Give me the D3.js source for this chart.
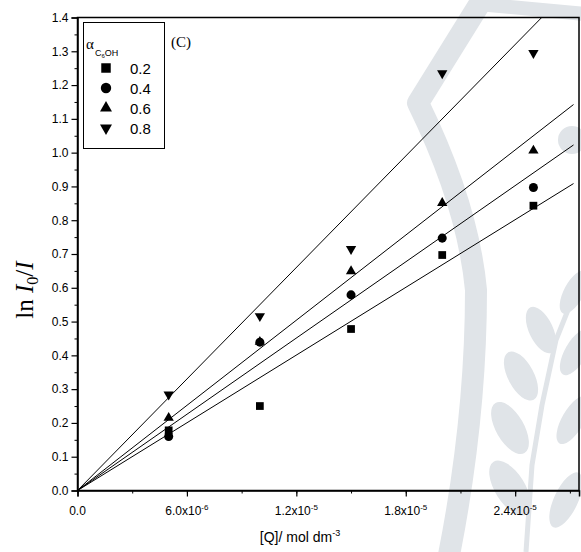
<!DOCTYPE html>
<html>
<head>
<meta charset="utf-8">
<script src="https://cdn.jsdelivr.net/npm/d3@7"></script>
<style>
  body { margin: 0; background: #fff; }
  text { font-family: "Liberation Sans", Arial, sans-serif; fill: #000; }
</style>
</head>
<body>
<div id="chart"></div>
<script>
// concentrations of quencher
var conc = [5e-6, 1e-5, 1.5e-5, 2e-5, 2.5e-5];
var alphaLabels = ['0.2', '0.4', '0.6', '0.8'];
var series02 = [0.178, 0.25, 0.478, 0.697, 0.843];
var series04 = [0.16, 0.439, 0.579, 0.747, 0.897];
var series06 = [0.215, 0.44, 0.649, 0.851, 1.006];
var series08 = [0.284, 0.516, 0.715, 1.235, 1.295];
// slopes of fitted lines (through origin)
var slopes = [33400, 37600, 42000, 55000];
var xTicks = [0, 6e-6, 1.2e-5, 1.8e-5, 2.4e-5];
var xTickLabels = [['0.0', ''], ['6.0x10', '-6'], ['1.2x10', '-5'], ['1.8x10', '-5'], ['2.4x10', '-5']];
var yTicks = [0, 0.1, 0.2, 0.3, 0.4, 0.5, 0.6, 0.7, 0.8, 0.9, 1.0, 1.1, 1.2, 1.3, 1.4];

var width = 581, height = 552;
var plotLeft = 77.5, plotRight = 579, plotTop = 17.5, plotBottom = 490.5;

var svg = d3.select('#chart').append('svg')
  .attr('width', width)
  .attr('height', height);

// faint background watermark
var wmColor = '#e0e4e8';
var wm = svg.append('g').attr('fill', 'none').attr('stroke', wmColor).attr('stroke-linejoin', 'round');
wm.append('path')
  .attr('d', 'M482,0 L418,103 Q468,205 476,290 Q476,420 448,560')
  .attr('stroke-width', 22);
wm.append('path').attr('d', 'M478,4 L585,14').attr('stroke-width', 14);
wm.append('path').attr('d', 'M578,285 L556,340 L542,405 L532,465 L526,552').attr('stroke-width', 5);
var leaves = [[541,330,12,25,-25],[521,376,13,27,-28],[510,428,14,29,-30],[510,488,15,31,-32],
              [574,292,10,24,28],[576,352,11,26,30],[573,420,11,27,30],[566,500,12,30,25]];
svg.insert('g', ':first-child').selectAll('ellipse').data(leaves).enter().append('ellipse')
  .attr('cx', function(d){ return d[0]; })
  .attr('cy', function(d){ return d[1]; })
  .attr('rx', function(d){ return d[2]; })
  .attr('ry', function(d){ return d[3]; })
  .attr('transform', function(d){ return 'rotate(' + d[4] + ',' + d[0] + ',' + d[1] + ')'; })
  .attr('fill', wmColor);
svg.insert('circle', ':first-child').attr('cx', 572).attr('cy', 140).attr('r', 14).attr('fill', wmColor);

var x = d3.scaleLinear().domain([0, 2.75e-5]).range([plotLeft, plotRight]);
var y = d3.scaleLinear().domain([0, 1.4]).range([plotBottom, plotTop]);

// frame
svg.append('rect')
  .attr('x', plotLeft).attr('y', plotTop)
  .attr('width', plotRight - plotLeft).attr('height', plotBottom - plotTop)
  .attr('fill', 'none').attr('stroke', '#000').attr('stroke-width', 1.5);

// x axis
svg.append('g').attr('transform', 'translate(0,' + plotBottom + ')')
  .call(d3.axisBottom(x).tickValues(d3.range(0, 2.8e-5, 3e-6)).tickSize(3).tickFormat(''))
  .call(function(g){ g.select('.domain').remove(); });
var xMajor = svg.append('g').attr('transform', 'translate(0,' + plotBottom + ')')
  .call(d3.axisBottom(x).tickValues(xTicks).tickSize(6).tickFormat(''));
xMajor.select('.domain').attr('stroke-width', 1.5);
xMajor.selectAll('.tick line').attr('stroke-width', 1.2);

var xl = svg.append('g').selectAll('text').data(xTicks).enter().append('text')
  .attr('x', function(d){ return x(d); })
  .attr('y', 515)
  .attr('text-anchor', 'middle')
  .attr('font-size', 12);
xl.append('tspan').text(function(d, i){ return xTickLabels[i][0]; });
xl.append('tspan').attr('dy', -5).attr('font-size', 8).text(function(d, i){ return xTickLabels[i][1]; });

// y axis
svg.append('g').attr('transform', 'translate(' + plotLeft + ',0)')
  .call(d3.axisLeft(y).tickValues(d3.range(0.05, 1.4, 0.1)).tickSize(3).tickFormat(''))
  .call(function(g){ g.select('.domain').remove(); });
var yMajor = svg.append('g').attr('transform', 'translate(' + plotLeft + ',0)')
  .call(d3.axisLeft(y).tickValues(yTicks).tickSize(6).tickFormat(d3.format('.1f')));
yMajor.select('.domain').attr('stroke-width', 1.5);
yMajor.selectAll('.tick line').attr('stroke-width', 1.2);
yMajor.selectAll('.tick text').attr('font-size', 12).attr('x', -9)
  .attr('font-family', '"Liberation Sans", Arial, sans-serif').attr('fill', '#000');

// axis titles
var xt = svg.append('text')
  .attr('x', 300).attr('y', 542)
  .attr('text-anchor', 'middle')
  .attr('font-size', 14);
xt.append('tspan').text('[Q]/ mol dm');
xt.append('tspan').attr('dy', -6).attr('font-size', 9).text('-3');

var yt = svg.append('text')
  .attr('transform', 'translate(33,290) rotate(-90)')
  .attr('text-anchor', 'middle')
  .attr('font-size', 25)
  .style('font-family', '"Liberation Serif", "Times New Roman", serif');
yt.append('tspan').text('ln ');
yt.append('tspan').attr('font-style', 'italic').text('I');
yt.append('tspan').attr('dy', 5).attr('font-size', 16).text('0');
yt.append('tspan').attr('dy', -5).text('/');
yt.append('tspan').attr('font-style', 'italic').text('I');

// fitted lines
var xEnd = 2.72e-5;
svg.append('clipPath').attr('id', 'clip').append('rect')
  .attr('x', plotLeft).attr('y', plotTop).attr('width', plotRight - plotLeft).attr('height', plotBottom - plotTop);
svg.append('g').attr('clip-path', 'url(#clip)').selectAll('line').data(slopes).enter().append('line')
  .attr('x1', x(0)).attr('y1', y(0))
  .attr('x2', x(xEnd))
  .attr('y2', function(d){ return y(d * xEnd); })
  .attr('stroke', '#000').attr('stroke-width', 1);

// markers
var allSeries = [series02, series04, series06, series08];
var symbols = [d3.symbolSquare, d3.symbolCircle, d3.symbolTriangle, d3.symbolTriangle];
var symSizes = [60, 64, 46, 46];
var legSizes = [90, 85, 62, 62];
var symRot = [0, 0, 0, 180];

function drawMarker(g, i, cx, cy, size) {
  g.append('path')
    .attr('d', d3.symbol().type(symbols[i]).size(size)())
    .attr('transform', 'translate(' + cx + ',' + cy + ') rotate(' + symRot[i] + ')')
    .attr('fill', '#000');
}

// draw the 0.6 series first so the circle covers it where they coincide
[2, 0, 1, 3].forEach(function(i){
  var g = svg.append('g');
  allSeries[i].forEach(function(v, j){
    drawMarker(g, i, x(conc[j]), y(v), symSizes[i]);
  });
});

// legend
svg.append('rect')
  .attr('x', 83.5).attr('y', 22.5).attr('width', 81).attr('height', 126)
  .attr('fill', '#fff').attr('stroke', '#000').attr('stroke-width', 1);
var at = svg.append('text').attr('x', 86).attr('y', 49).attr('font-size', 15)
  .style('font-family', '"Liberation Serif", "Times New Roman", serif');
at.append('tspan').text('\u03B1');
var sub = svg.append('text').attr('x', 95).attr('y', 56).attr('font-size', 9);
sub.append('tspan').text('C');
sub.append('tspan').attr('dy', 2).attr('font-size', 6).text('6');
sub.append('tspan').attr('dy', -2).text('OH');

var lg = svg.append('g');
alphaLabels.forEach(function(lab, i){
  var cy = 68 + i * 20;
  drawMarker(lg, i, 106, cy, legSizes[i]);
  lg.append('text').attr('x', 130).attr('y', cy + 5.5).attr('font-size', 15).text(lab);
});

svg.append('text')
  .attr('x', 171).attr('y', 47)
  .attr('font-size', 15)
  .style('font-family', '"Liberation Serif", "Times New Roman", serif')
  .text('(C)');
</script>
</body>
</html>
